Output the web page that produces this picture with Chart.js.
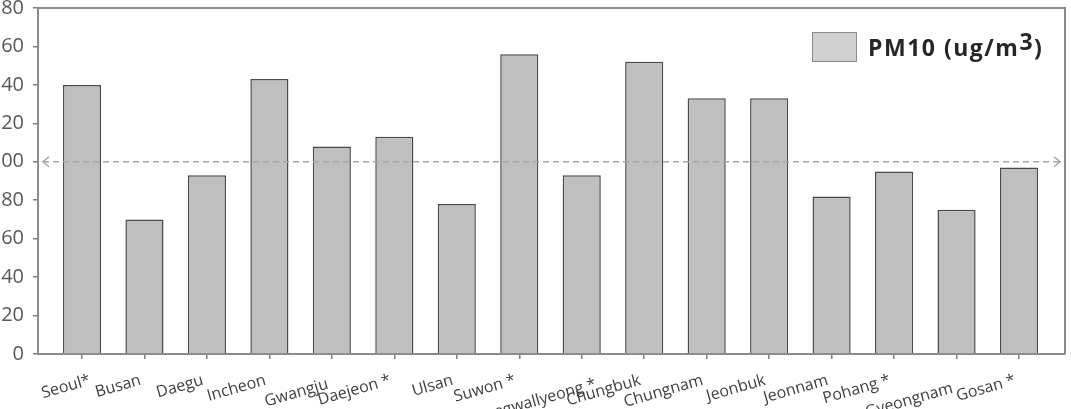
<!DOCTYPE html>
<html>
<head>
<meta charset="utf-8">
<script src="https://cdn.jsdelivr.net/npm/chart.js@4.4.1/dist/chart.umd.min.js"></script>
<style>
  html, body { margin: 0; padding: 0; background: #fff; }
  #wrap { position: relative; width: 1071px; height: 409px; overflow: hidden; }
  #pmChart { position: absolute; left: -40px; top: 0; }
  .legend { position: absolute; left: 812px; top: 32px; display: flex; align-items: center; }
  .legend-box { width: 43px; height: 28px; background: #d0d0d0; border: 1.5px solid #8c8c8c; }
  .legend-text { margin-left: 11px; font-family: 'Open Sans', sans-serif; font-weight: 700; font-size: 23px;
    letter-spacing: 1.5px; color: #262626; line-height: 30px; white-space: nowrap; }
  .legend-text .sup { position: relative; top: -6px; }
</style>
</head>
<body>
<div id="wrap">
  <canvas id="pmChart" width="1111" height="409"></canvas>
  <div class="legend"><span class="legend-box"></span><span class="legend-text">PM10 (ug/m<span class="sup">3</span>)</span></div>
</div>
<script>
// Stations along the x axis
const stations = ['Seoul*', 'Busan', 'Daegu', 'Incheon', 'Gwangju', 'Daejeon *', 'Ulsan', 'Suwon *',
  'Daegwallyeong *', 'Chungbuk', 'Chungnam', 'Jeonbuk', 'Jeonnam', 'Pohang *', 'Gyeongnam', 'Gosan *'];
// PM10 values (ug/m3)
const pm10 = [140, 70, 93, 143, 108, 113, 78, 156, 93, 152, 133, 133, 82, 95, 75, 97];
// y axis ticks
const yTicks = [0, 20, 40, 60, 80, 100, 120, 140, 160, 180];
// dashed reference level
const referenceLevel = [100];

// small label nudges (dx, dy) - the original staggers a few names
const labelNudge = {
    'Seoul*': [12, 0],
    'Gwangju': [0, 4],
    'Daegwallyeong *': [18, 4],
    'Gyeongnam': [0, 8]
};

const frameColor = '#8c8c8c';

// top + right border of the plot area
const framePlugin = {
    id: 'frame',
    afterDraw(chart) {
        const { ctx, chartArea: a } = chart;
        ctx.save();
        ctx.strokeStyle = frameColor;
        ctx.lineWidth = 2;
        ctx.beginPath();
        ctx.moveTo(a.left, a.top);
        ctx.lineTo(a.right, a.top);
        ctx.lineTo(a.right, a.bottom);
        ctx.stroke();
        ctx.restore();
    }
};

// dashed line with open arrow heads at both ends
const refLinePlugin = {
    id: 'refLine',
    afterDatasetsDraw(chart) {
        const { ctx, chartArea: a } = chart;
        const y = chart.scales.y.getPixelForValue(referenceLevel[0]);
        const x0 = a.left + 5, x1 = a.right - 5;
        ctx.save();
        ctx.strokeStyle = '#a6a6a6';
        ctx.lineWidth = 1.5;
        ctx.setLineDash([6, 4]);
        ctx.beginPath();
        ctx.moveTo(x0, y);
        ctx.lineTo(x1, y);
        ctx.stroke();
        ctx.setLineDash([]);
        ctx.beginPath();
        ctx.moveTo(x0 + 6, y - 5); ctx.lineTo(x0, y); ctx.lineTo(x0 + 6, y + 5);
        ctx.moveTo(x1 - 6, y - 5); ctx.lineTo(x1, y); ctx.lineTo(x1 - 6, y + 5);
        ctx.stroke();
        ctx.restore();
    }
};

// rotated station names, right end near the tick
const stationLabels = {
    id: 'stationLabels',
    afterDraw(chart) {
        const { ctx } = chart;
        const xs = chart.scales.x;
        const base = chart.chartArea.bottom + 26;
        ctx.save();
        ctx.font = '16px "Open Sans", sans-serif';
        ctx.fillStyle = '#404040';
        ctx.textAlign = 'right';
        ctx.textBaseline = 'middle';
        stations.forEach((name, i) => {
            const [dx, dy] = labelNudge[name] || [0, 0];
            ctx.save();
            ctx.translate(xs.getPixelForValue(i) - 4 + dx, base + dy);
            ctx.rotate(-16 * Math.PI / 180);
            ctx.fillText(name, 0, 0);
            ctx.restore();
        });
        ctx.restore();
    }
};

new Chart(document.getElementById('pmChart'), {
    type: 'bar',
    data: {
        datasets: [{
            data: pm10.map((v, i) => ({ x: i, y: v })),
            backgroundColor: '#bfbfbf',
            borderColor: '#4a4a4a',
            borderWidth: 1.5,
            borderSkipped: 'bottom',
            barPercentage: 0.61,
            categoryPercentage: 1
        }]
    },
    options: {
        responsive: false,
        animation: false,
        layout: { padding: { top: 8, right: 6, left: 0, bottom: 0 } },
        plugins: {
            legend: { display: false },
            tooltip: { enabled: false }
        },
        scales: {
            x: {
                type: 'linear',
                offset: false,
                min: -0.704,
                max: 15.736,
                afterBuildTicks: s => { s.ticks = stations.map((_, i) => ({ value: i })); },
                afterFit: s => { s.height = 55; s.paddingLeft = 0; s.paddingRight = 0; },
                ticks: { display: false },
                grid: { offset: false, drawOnChartArea: false, drawTicks: true, tickLength: 5, color: '#7f7f7f', lineWidth: 1.5 },
                border: { color: frameColor, width: 2 }
            },
            y: {
                min: 0,
                max: 180,
                afterBuildTicks: s => { s.ticks = yTicks.map(v => ({ value: v })); },
                afterFit: s => { s.width = 78; s.paddingTop = 0; s.paddingBottom = 0; },
                ticks: {
                    color: '#595959',
                    padding: 9,
                    font: { family: 'Open Sans', size: 20 }
                },
                grid: { drawOnChartArea: false, drawTicks: true, tickLength: 5, color: '#7f7f7f', lineWidth: 1.5 },
                border: { color: frameColor, width: 2 }
            }
        }
    },
    plugins: [framePlugin, refLinePlugin, stationLabels]
});
</script>
</body>
</html>
